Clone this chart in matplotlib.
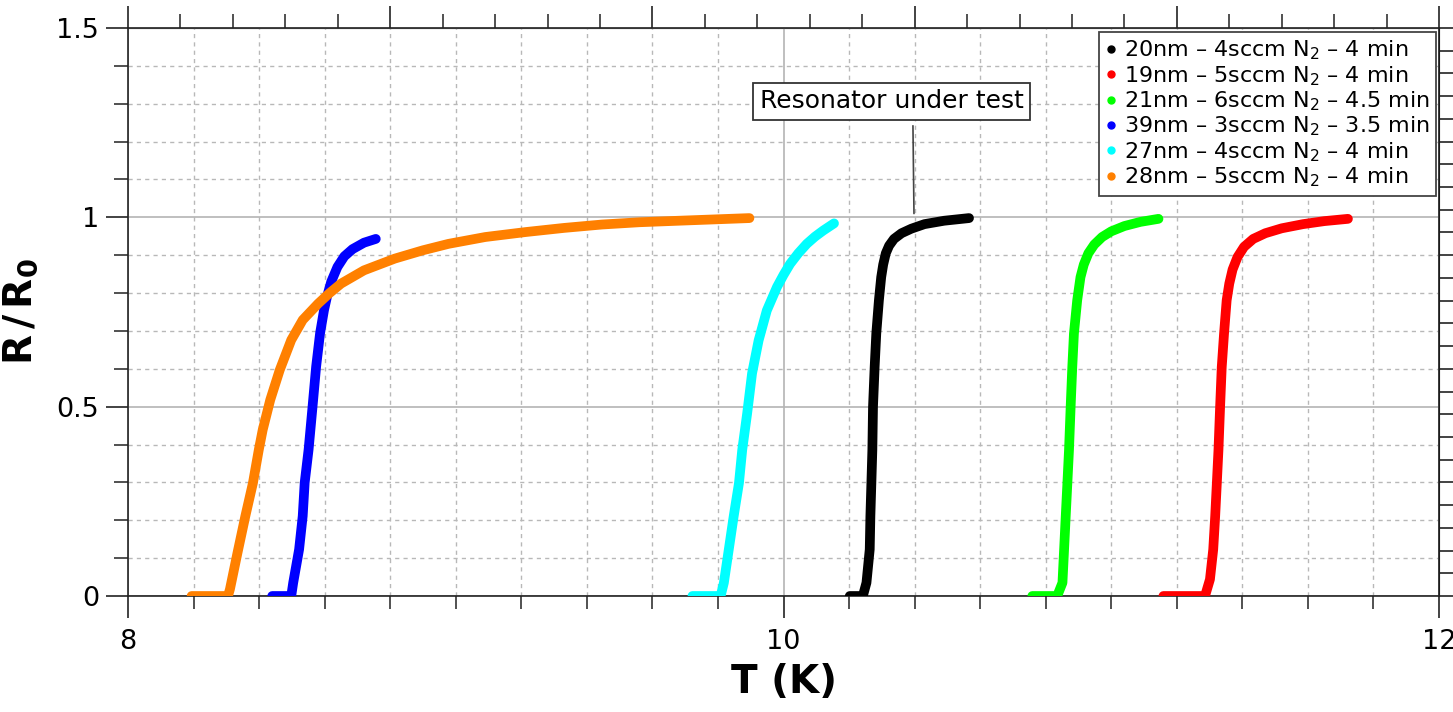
import numpy as np
import matplotlib
matplotlib.use("Agg")
import matplotlib.pyplot as plt
from matplotlib.lines import Line2D
from matplotlib.ticker import MultipleLocator, FuncFormatter

# R/R0 vs T curves (T in K)
black_T = [10.202, 10.242, 10.253, 10.263, 10.265, 10.268, 10.271, 10.273, 10.278,
           10.283, 10.291, 10.298, 10.304, 10.312, 10.322, 10.337, 10.360, 10.390,
           10.430, 10.490, 10.566]
black_R = [0, 0, 0.035, 0.123, 0.211, 0.298, 0.386, 0.5, 0.605,
           0.693, 0.781, 0.842, 0.875, 0.905, 0.925, 0.943, 0.958, 0.970,
           0.982, 0.991, 0.998]

red_T = [11.159, 11.286, 11.301, 11.311, 11.317, 11.322, 11.327, 11.332, 11.337,
         11.344, 11.352, 11.360, 11.370, 11.385, 11.405, 11.433, 11.470, 11.520,
         11.585, 11.650, 11.722]
red_R = [0, 0, 0.044, 0.123, 0.211, 0.298, 0.386, 0.5, 0.605,
         0.693, 0.781, 0.825, 0.862, 0.895, 0.922, 0.943, 0.958, 0.971,
         0.982, 0.990, 0.996]

green_T = [10.759, 10.835, 10.851, 10.856, 10.861, 10.866, 10.871, 10.876, 10.881,
           10.886, 10.896, 10.906, 10.916, 10.930, 10.948, 10.972, 11.000, 11.040,
           11.089, 11.144]
green_R = [0, 0, 0.035, 0.123, 0.211, 0.298, 0.386, 0.5, 0.605,
           0.693, 0.781, 0.842, 0.875, 0.905, 0.928, 0.948, 0.963, 0.977,
           0.988, 0.996]

blue_T = [8.440, 8.498, 8.504, 8.522, 8.533, 8.539, 8.551, 8.563, 8.574,
          8.586, 8.598, 8.607, 8.620, 8.639, 8.660, 8.685, 8.720, 8.756]
blue_R = [0, 0, 0.035, 0.123, 0.211, 0.299, 0.387, 0.5, 0.606,
          0.694, 0.755, 0.790, 0.830, 0.869, 0.897, 0.916, 0.933, 0.943]

cyan_T = [9.722, 9.808, 9.818, 9.833, 9.848, 9.864, 9.874, 9.889, 9.904,
          9.924, 9.949, 9.980, 10.000, 10.020, 10.045, 10.071, 10.096, 10.121, 10.154]
cyan_R = [0, 0, 0.035, 0.123, 0.211, 0.298, 0.386, 0.482, 0.588,
          0.675, 0.754, 0.816, 0.848, 0.877, 0.905, 0.930, 0.949, 0.965, 0.984]

orange_T = [8.194, 8.305, 8.311, 8.334, 8.358, 8.381, 8.399, 8.411, 8.434, 8.463,
            8.498, 8.533, 8.580, 8.615, 8.650, 8.720, 8.814, 8.900, 8.978, 9.090,
            9.212, 9.330, 9.446, 9.560, 9.680, 9.896]
orange_R = [0, 0, 0.018, 0.114, 0.211, 0.298, 0.386, 0.439, 0.518, 0.597,
            0.676, 0.729, 0.772, 0.800, 0.825, 0.860, 0.891, 0.913, 0.930, 0.948,
            0.961, 0.972, 0.981, 0.987, 0.991, 0.998]

labels = [
    "20nm \u2013 4sccm N$_2$ \u2013 4 min",
    "19nm \u2013 5sccm N$_2$ \u2013 4 min",
    "21nm \u2013 6sccm N$_2$ \u2013 4.5 min",
    "39nm \u2013 3sccm N$_2$ \u2013 3.5 min",
    "27nm \u2013 4sccm N$_2$ \u2013 4 min",
    "28nm \u2013 5sccm N$_2$ \u2013 4 min",
]
colors = ["#000000", "#ff0000", "#00ff00", "#0000ff", "#00ffff", "#ff8000"]
series = [(black_T, black_R), (red_T, red_R), (green_T, green_R),
          (blue_T, blue_R), (cyan_T, cyan_R), (orange_T, orange_R)]

annot_text = "Resonator under test"
annot_xy = (10.398, 1.01)
annot_text_xy = (10.33, 1.307)

fig = plt.figure(figsize=(14.53, 7.12), dpi=100)
ax = fig.add_axes([0.0881, 0.1629, 0.9023, 0.7978])

for (t, r), c in zip(series, colors):
    ax.plot(t, r, color=c, lw=7, solid_capstyle="round", solid_joinstyle="round", zorder=3)

ax.set_xlim(8, 12)
ax.set_ylim(0, 1.5)

ax.xaxis.set_major_locator(MultipleLocator(2))
ax.xaxis.set_minor_locator(MultipleLocator(0.2))
ax.yaxis.set_major_locator(MultipleLocator(0.5))
ax.yaxis.set_minor_locator(MultipleLocator(0.1))
ax.yaxis.set_major_formatter(FuncFormatter(lambda v, p: "%g" % v))

ax.grid(which="major", ls="-", color="#b4b4b4", lw=1.2, zorder=0)
ax.grid(which="minor", ls=(0, (3, 3)), color="#b8b8b8", lw=1.0, zorder=0)

ax.tick_params(which="major", direction="out", length=15.8, width=1.2, color="#222222",
               labelsize=19.5)
ax.tick_params(which="minor", direction="out", length=9.5, width=1.2, color="#333333")
ax.tick_params(axis="x", which="major", pad=8)
ax.tick_params(axis="y", which="major", pad=5)
ax.tick_params(axis="y", which="minor", length=10)

for s in ax.spines.values():
    s.set_color("#222222")
    s.set_linewidth(1.2)

# mirror axes with their own tick spacing
top = ax.secondary_xaxis("top")
top.xaxis.set_major_locator(MultipleLocator(0.8))
top.xaxis.set_minor_locator(MultipleLocator(0.16))
top.tick_params(which="major", direction="out", length=15.8, width=1.2, color="#222222",
                labeltop=False)
top.tick_params(which="minor", direction="out", length=10, width=1.2, color="#333333")

right = ax.secondary_yaxis("right")
right.yaxis.set_major_locator(MultipleLocator(0.3))
right.yaxis.set_minor_locator(MultipleLocator(0.06))
right.tick_params(which="both", direction="out", length=12, width=1.2, color="#222222",
                  labelright=False)

ax.set_xlabel("T (K)", fontsize=28, fontweight="bold", labelpad=6)
ax.set_ylabel(r"$\mathbf{R\,/\,R_0}$", fontsize=28, labelpad=12)

handles = [Line2D([], [], marker="o", ls="none", color=c, markersize=5) for c in colors]
leg = ax.legend(handles, labels, loc="upper right", bbox_to_anchor=(0.998, 0.993),
                borderaxespad=0, fontsize=16, handlelength=0.5, handletextpad=0.35,
                labelspacing=0.08, borderpad=0.3, fancybox=False, framealpha=1,
                edgecolor="#444444")
leg.get_frame().set_linewidth(1.3)
leg.set_zorder(10)

ax.annotate(annot_text, xy=annot_xy, xytext=annot_text_xy, fontsize=18,
            ha="center", va="center", zorder=10,
            bbox=dict(boxstyle="square,pad=0.26", fc="white", ec="#333333", lw=1.3),
            arrowprops=dict(arrowstyle="-", color="#444444", lw=1.2,
                            relpos=(0.58, 0.0), shrinkA=4, shrinkB=0))

fig.savefig("out.png", dpi=100)
